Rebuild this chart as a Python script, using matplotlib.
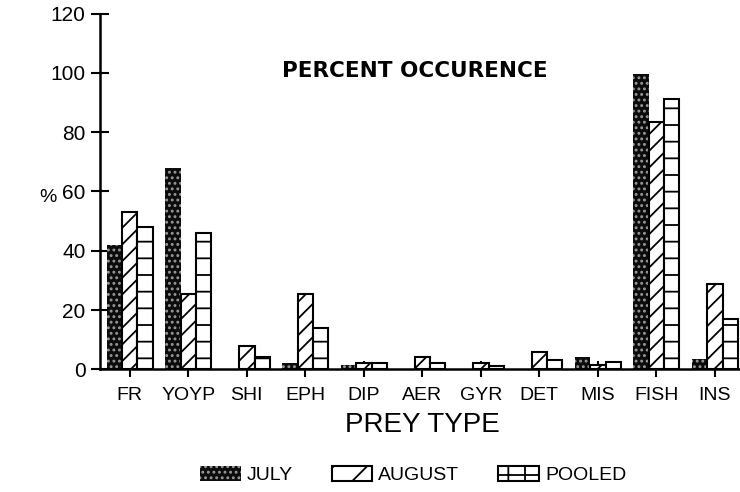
import matplotlib
matplotlib.use("Agg")
import matplotlib.pyplot as plt
import numpy as np
from matplotlib.patches import Patch

plt.rcParams['font.family'] = ['Liberation Sans', 'DejaVu Sans']
plt.rcParams['hatch.linewidth'] = 1.3

# Percent occurrence of each prey type
categories = ['FR', 'YOYP', 'SHI', 'EPH', 'DIP', 'AER', 'GYR', 'DET', 'MIS', 'FISH', 'INS']
july = [42, 68, 0, 2, 1.5, 0, 0, 0, 4, 99.5, 3.5]
august = [53, 25.5, 8, 25.5, 2, 4, 2, 6, 1.5, 83.5, 28.7]
pooled = [48, 46, 4, 14, 2, 2, 1, 3, 2.5, 91, 17]
series_labels = ['JULY', 'AUGUST', 'POOLED']
y_ticks = [0, 20, 40, 60, 80, 100, 120]

fig = plt.figure(figsize=(7.4, 4.92), dpi=100)
ax = fig.add_axes([100 / 740, 1 - 369.3 / 492, 640 / 740, (369.3 - 13.5) / 492])

x = np.arange(len(categories))
w = 0.262

july_style = dict(facecolor='#0c0c0c', edgecolor='#9a9a9a', hatch='...', linewidth=0)
aug_style = dict(facecolor='white', edgecolor='black', hatch='//', linewidth=1.5)
pool_style = dict(facecolor='white', edgecolor='black', hatch='-', linewidth=1.5)

ax.bar(x - w, july, w, zorder=2, **july_style)
ax.bar(x, august, w, zorder=2, **aug_style)
ax.bar(x + w, pooled, w, zorder=2, **pool_style)

ax.set_xlim(-0.51, 10.43)
ax.set_ylim(0, 120)
ax.set_yticks(y_ticks)
ax.set_xticks(x)
ax.set_xticklabels(categories, fontsize=14)
ax.tick_params(axis='y', direction='inout', length=13, width=1.5,
               labelsize=15, pad=4)
ax.tick_params(axis='x', direction='inout', length=11, width=1.5, pad=7)

for s in ['top', 'right']:
    ax.spines[s].set_visible(False)
for s in ['left', 'bottom']:
    ax.spines[s].set_linewidth(1.8)
    ax.spines[s].set_zorder(3)

ax.set_xlabel('PREY TYPE', fontsize=20)
ax.xaxis.set_label_coords(0.503, -0.119)
fig.text(48 / 740, 1 - 197 / 492, '%', fontsize=14, ha='center', va='center')
fig.text(415 / 740, 1 - 71 / 492, 'PERCENT OCCURENCE', fontsize=15.5,
         fontweight='bold', family='DejaVu Sans', ha='center', va='center')

handles = [
    Patch(**july_style),
    Patch(facecolor='white', edgecolor='black', hatch='/', linewidth=1.5),
    Patch(facecolor='white', edgecolor='black', hatch='+', linewidth=1.5),
]
fig.legend(handles, series_labels, loc='center', ncol=3, frameon=False,
           bbox_to_anchor=(413 / 740, 1 - 475 / 492), fontsize=14,
           handlelength=2.1, handleheight=0.8, handletextpad=0.3,
           columnspacing=2.0)

fig.savefig('out.png', dpi=100)
